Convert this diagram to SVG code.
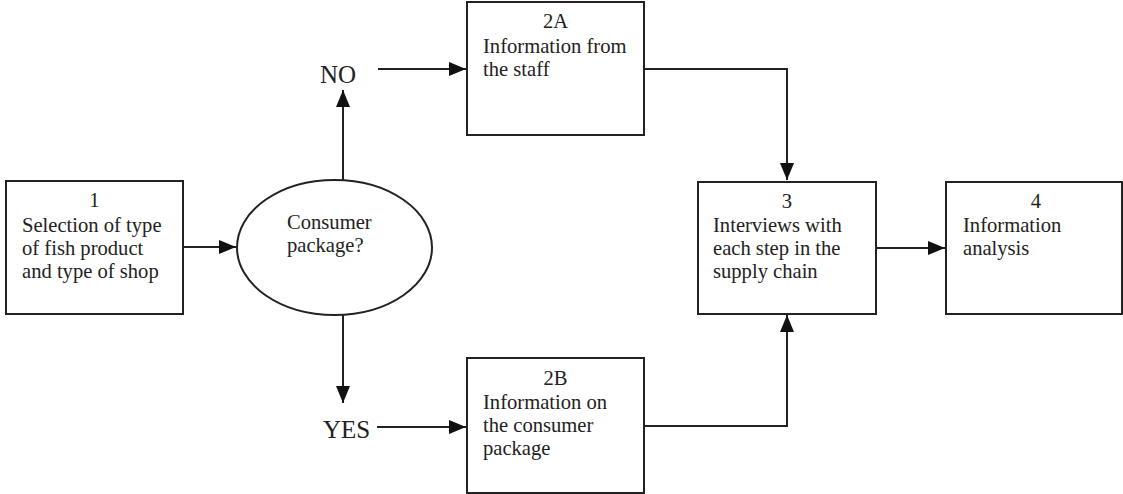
<svg xmlns="http://www.w3.org/2000/svg" width="1123" height="494" viewBox="0 0 1123 494">
<style>
.box{fill:#fff;stroke:#222;stroke-width:2}
.t{font-family:"Liberation Serif","Times New Roman",serif;font-size:20.6px;fill:#222}
.big{font-family:"Liberation Serif","Times New Roman",serif;font-size:25px;fill:#222}
.c{text-anchor:middle}
.ln{fill:none;stroke:#222;stroke-width:2}
</style>
<defs>
<marker id="ah" markerUnits="userSpaceOnUse" markerWidth="18" markerHeight="15" refX="17" refY="7" orient="auto">
<path d="M0,0 L17,7 L0,14 z" fill="#111"/>
</marker>
</defs>
<rect width="1123" height="494" fill="#fff"/>
<g id="connectors">
<line class="ln" x1="183" y1="247" x2="236" y2="247" marker-end="url(#ah)"/>
<line class="ln" x1="343" y1="180" x2="343" y2="90" marker-end="url(#ah)"/>
<line class="ln" x1="343" y1="315" x2="343" y2="403" marker-end="url(#ah)"/>
<line class="ln" x1="378" y1="69" x2="466" y2="69" marker-end="url(#ah)"/>
<line class="ln" x1="377" y1="427" x2="466" y2="427" marker-end="url(#ah)"/>
<polyline class="ln" points="644,69 787,69 787,180" marker-end="url(#ah)"/>
<polyline class="ln" points="644,426 787,426 787,315" marker-end="url(#ah)"/>
<line class="ln" x1="876" y1="248" x2="945" y2="248" marker-end="url(#ah)"/>
</g>
<g id="node1">
<rect class="box" x="6" y="181" width="177" height="133"/>
<text class="t c" x="94.5" y="207">1</text>
<text class="t" x="22" y="232">Selection of type</text>
<text class="t" x="22" y="255">of fish product</text>
<text class="t" x="22" y="278">and type of shop</text>
</g>
<g id="decision">
<ellipse class="box" cx="334.5" cy="247.5" rx="97.5" ry="67.5"/>
<text class="t" x="287" y="229">Consumer</text>
<text class="t" x="287" y="252">package?</text>
</g>
<g id="labelNO">
<text class="big" x="320" y="83">NO</text>
</g>
<g id="labelYES">
<text class="big" x="323" y="438">YES</text>
</g>
<g id="node2A">
<rect class="box" x="467" y="2" width="177" height="133"/>
<text class="t c" x="555.5" y="28">2A</text>
<text class="t" x="483" y="53">Information from</text>
<text class="t" x="483" y="76">the staff</text>
</g>
<g id="node2B">
<rect class="box" x="467" y="358" width="177" height="135"/>
<text class="t c" x="555.5" y="385">2B</text>
<text class="t" x="483" y="409">Information on</text>
<text class="t" x="483" y="432">the consumer</text>
<text class="t" x="483" y="455">package</text>
</g>
<g id="node3">
<rect class="box" x="698" y="182" width="178" height="132"/>
<text class="t c" x="787" y="208">3</text>
<text class="t" x="713" y="232">Interviews with</text>
<text class="t" x="713" y="255">each step in the</text>
<text class="t" x="713" y="278">supply chain</text>
</g>
<g id="node4">
<rect class="box" x="946" y="182" width="176" height="132"/>
<text class="t c" x="1036" y="208">4</text>
<text class="t" x="963" y="232">Information</text>
<text class="t" x="963" y="255">analysis</text>
</g>
</svg>
